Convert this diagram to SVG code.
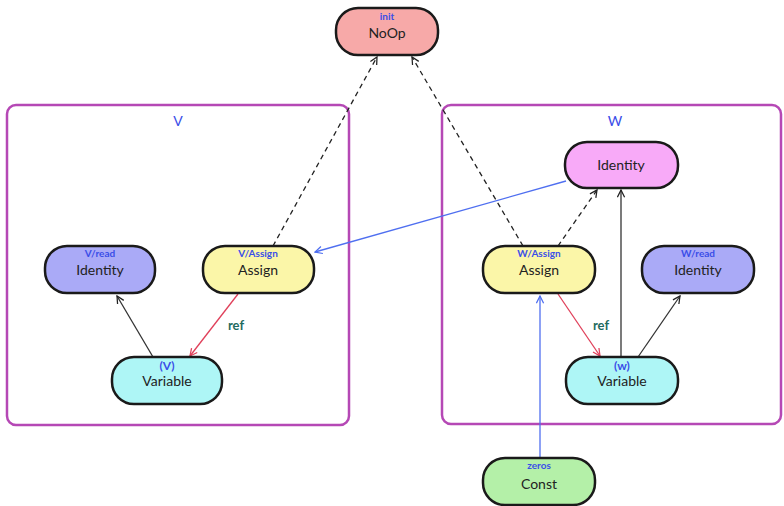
<svg xmlns="http://www.w3.org/2000/svg" width="784" height="506" viewBox="0 0 784 506">
<defs>
<style>
.cluster{fill:#ffffff;stroke:#b548b5;stroke-width:2.5}
.clabel{font-family:Lato,"Liberation Sans",sans-serif;font-size:14px;fill:#3a4ee8;text-anchor:middle}
.node{stroke:#1a1a1a;stroke-width:2.5}
.sub{font-family:Lato,"Liberation Sans",sans-serif;font-size:10px;font-weight:bold;fill:#3a4ee8;text-anchor:middle}
.main{font-family:Lato,"Liberation Sans",sans-serif;font-size:14px;fill:#222;text-anchor:middle}
.ref{font-family:Lato,"Liberation Sans",sans-serif;font-size:13px;font-weight:bold;fill:#1f6b60;text-anchor:middle}
.e{fill:none;stroke-width:1.3}
.dash{stroke:#222;stroke-dasharray:5,4}
.blk{stroke:#333}
.red{stroke:#e0405a}
.blue{stroke:#4f6ff0}
</style>
<marker id="aK" viewBox="0 0 10 10" refX="9" refY="5" markerWidth="9" markerHeight="9" orient="auto" markerUnits="userSpaceOnUse"><path d="M1,1 L9,5 L1,9" fill="none" stroke="#222" stroke-width="1.4"/></marker>
<marker id="aR" viewBox="0 0 10 10" refX="9" refY="5" markerWidth="9" markerHeight="9" orient="auto" markerUnits="userSpaceOnUse"><path d="M1,1 L9,5 L1,9" fill="none" stroke="#e0405a" stroke-width="1.4"/></marker>
<marker id="aB" viewBox="0 0 10 10" refX="9" refY="5" markerWidth="9" markerHeight="9" orient="auto" markerUnits="userSpaceOnUse"><path d="M1,1 L9,5 L1,9" fill="none" stroke="#4f6ff0" stroke-width="1.4"/></marker>
</defs>
<rect width="784" height="506" fill="#ffffff"/>
<g id="cluster-V"><rect class="cluster" x="7" y="105" width="342" height="320" rx="9"/><text class="clabel" x="178" y="126">V</text></g>
<g id="cluster-W"><rect class="cluster" x="442" y="105" width="339" height="319" rx="9"/><text class="clabel" x="615" y="126">W</text></g>
<g id="edges">
<line class="e dash" x1="273" y1="246" x2="377" y2="57" marker-end="url(#aK)"/>
<line class="e dash" x1="523" y1="246" x2="412" y2="57" marker-end="url(#aK)"/>
<line class="e dash" x1="558" y1="246" x2="597" y2="190" marker-end="url(#aK)"/>
<line class="e blue" x1="566" y1="181" x2="315" y2="252" marker-end="url(#aB)"/>
<line class="e red" x1="238" y1="294" x2="190" y2="356" marker-end="url(#aR)"/>
<line class="e blk" x1="153" y1="357" x2="117" y2="296" marker-end="url(#aK)"/>
<line class="e red" x1="558" y1="294" x2="600" y2="356" marker-end="url(#aR)"/>
<line class="e blk" x1="621" y1="357" x2="621" y2="190" marker-end="url(#aK)"/>
<line class="e blk" x1="638" y1="357" x2="680" y2="296" marker-end="url(#aK)"/>
<line class="e blue" x1="540" y1="458" x2="540" y2="296" marker-end="url(#aB)"/>
<text class="ref" x="236" y="330">ref</text>
<text class="ref" x="601" y="330">ref</text>
</g>
<g id="init"><rect class="node" x="336" y="8" width="102" height="47" rx="22" fill="#f7a9a8"/><text class="sub" x="387" y="20">init</text><text class="main" x="387" y="38">NoOp</text></g>
<g id="V-read"><rect class="node" x="45" y="246" width="110" height="47" rx="22" fill="#aaaaf7"/><text class="sub" x="100" y="257">V/read</text><text class="main" x="100" y="275">Identity</text></g>
<g id="V-Assign"><rect class="node" x="203" y="246" width="111" height="47" rx="22" fill="#fbf6a8"/><text class="sub" x="258" y="257">V/Assign</text><text class="main" x="258" y="275">Assign</text></g>
<g id="V"><rect class="node" x="112" y="357" width="110" height="47" rx="22" fill="#aef6f6"/><text class="sub" x="167" y="370" style="font-size:12px">(V)</text><text class="main" x="167" y="386">Variable</text></g>
<g id="W-Identity"><rect class="node" x="565" y="142" width="113" height="46" rx="22" fill="#f8aaf8"/><text class="main" x="621" y="170">Identity</text></g>
<g id="W-Assign"><rect class="node" x="483" y="246" width="112" height="47" rx="22" fill="#fbf6a8"/><text class="sub" x="539" y="257">W/Assign</text><text class="main" x="539" y="275">Assign</text></g>
<g id="W-read"><rect class="node" x="642" y="246" width="112" height="47" rx="22" fill="#aaaaf7"/><text class="sub" x="698" y="257">W/read</text><text class="main" x="698" y="275">Identity</text></g>
<g id="W"><rect class="node" x="566" y="357" width="112" height="47" rx="22" fill="#aef6f6"/><text class="sub" x="622" y="370" style="font-size:12px">(w)</text><text class="main" x="622" y="386">Variable</text></g>
<g id="zeros"><rect class="node" x="483" y="458" width="112" height="47" rx="22" fill="#b4f0a8"/><text class="sub" x="539" y="469">zeros</text><text class="main" x="539" y="489">Const</text></g>
</svg>
